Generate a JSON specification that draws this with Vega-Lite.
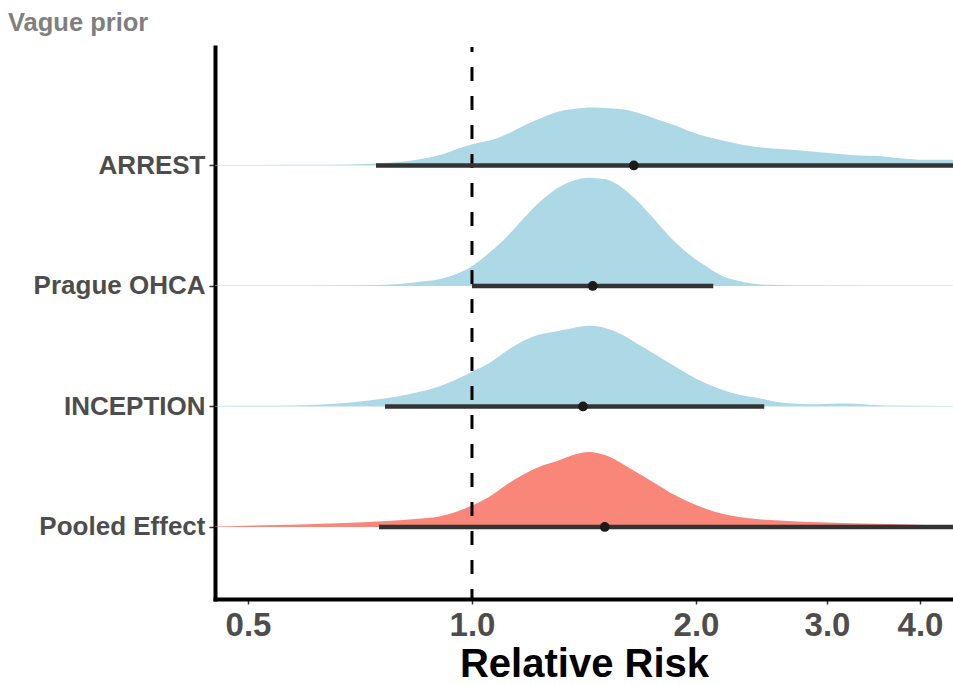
{
  "$schema": "https://vega.github.io/schema/vega-lite/v6.json",
  "width": 738,
  "height": 552,
  "autosize": {"type": "none"},
  "padding": {"left": 215, "top": 47, "right": 0, "bottom": 86},
  "background": "white",
  "title": {"text": "Vague prior", "anchor": "start", "frame": "group", "dx": -207, "dy": 28, "offset": 17, "baseline": "alphabetic", "fontSize": 25.5, "font": "Liberation Sans", "fontWeight": "bold", "color": "#7F7F7F"},
  "datasets": {
    "dens": [
      {"study": "ARREST", "rr": 0.4515, "density": 0.008},
      {"study": "ARREST", "rr": 0.6, "density": 0.012},
      {"study": "ARREST", "rr": 0.705, "density": 0.022},
      {"study": "ARREST", "rr": 0.781, "density": 0.05},
      {"study": "ARREST", "rr": 0.866, "density": 0.122},
      {"study": "ARREST", "rr": 0.922, "density": 0.205},
      {"study": "ARREST", "rr": 0.961, "density": 0.288},
      {"study": "ARREST", "rr": 1.001, "density": 0.355},
      {"study": "ARREST", "rr": 1.065, "density": 0.428},
      {"study": "ARREST", "rr": 1.121, "density": 0.538},
      {"study": "ARREST", "rr": 1.181, "density": 0.678},
      {"study": "ARREST", "rr": 1.243, "density": 0.8},
      {"study": "ARREST", "rr": 1.309, "density": 0.9},
      {"study": "ARREST", "rr": 1.378, "density": 0.945},
      {"study": "ARREST", "rr": 1.451, "density": 0.967},
      {"study": "ARREST", "rr": 1.528, "density": 0.955},
      {"study": "ARREST", "rr": 1.609, "density": 0.928},
      {"study": "ARREST", "rr": 1.694, "density": 0.855},
      {"study": "ARREST", "rr": 1.783, "density": 0.758},
      {"study": "ARREST", "rr": 1.878, "density": 0.667},
      {"study": "ARREST", "rr": 1.977, "density": 0.555},
      {"study": "ARREST", "rr": 2.082, "density": 0.472},
      {"study": "ARREST", "rr": 2.193, "density": 0.405},
      {"study": "ARREST", "rr": 2.43, "density": 0.305},
      {"study": "ARREST", "rr": 2.694, "density": 0.262},
      {"study": "ARREST", "rr": 2.987, "density": 0.212},
      {"study": "ARREST", "rr": 3.312, "density": 0.167},
      {"study": "ARREST", "rr": 3.523, "density": 0.16},
      {"study": "ARREST", "rr": 3.748, "density": 0.122},
      {"study": "ARREST", "rr": 4.07, "density": 0.095},
      {"study": "ARREST", "rr": 4.43, "density": 0.095},
      {"study": "Prague OHCA", "rr": 0.4515, "density": 0.008},
      {"study": "Prague OHCA", "rr": 0.70, "density": 0.012},
      {"study": "Prague OHCA", "rr": 0.80, "density": 0.033},
      {"study": "Prague OHCA", "rr": 0.85, "density": 0.07},
      {"study": "Prague OHCA", "rr": 0.903, "density": 0.112},
      {"study": "Prague OHCA", "rr": 0.951, "density": 0.195},
      {"study": "Prague OHCA", "rr": 1.001, "density": 0.333},
      {"study": "Prague OHCA", "rr": 1.054, "density": 0.55},
      {"study": "Prague OHCA", "rr": 1.11, "density": 0.8},
      {"study": "Prague OHCA", "rr": 1.168, "density": 1.1},
      {"study": "Prague OHCA", "rr": 1.23, "density": 1.388},
      {"study": "Prague OHCA", "rr": 1.296, "density": 1.612},
      {"study": "Prague OHCA", "rr": 1.364, "density": 1.75},
      {"study": "Prague OHCA", "rr": 1.436, "density": 1.805},
      {"study": "Prague OHCA", "rr": 1.513, "density": 1.778},
      {"study": "Prague OHCA", "rr": 1.592, "density": 1.638},
      {"study": "Prague OHCA", "rr": 1.677, "density": 1.388},
      {"study": "Prague OHCA", "rr": 1.766, "density": 1.083},
      {"study": "Prague OHCA", "rr": 1.858, "density": 0.778},
      {"study": "Prague OHCA", "rr": 1.957, "density": 0.528},
      {"study": "Prague OHCA", "rr": 2.061, "density": 0.333},
      {"study": "Prague OHCA", "rr": 2.169, "density": 0.167},
      {"study": "Prague OHCA", "rr": 2.285, "density": 0.083},
      {"study": "Prague OHCA", "rr": 2.43, "density": 0.028},
      {"study": "Prague OHCA", "rr": 2.7, "density": 0.012},
      {"study": "Prague OHCA", "rr": 4.43, "density": 0.008},
      {"study": "INCEPTION", "rr": 0.4515, "density": 0.008},
      {"study": "INCEPTION", "rr": 0.579, "density": 0.017},
      {"study": "INCEPTION", "rr": 0.758, "density": 0.128},
      {"study": "INCEPTION", "rr": 0.84, "density": 0.23},
      {"study": "INCEPTION", "rr": 0.903, "density": 0.333},
      {"study": "INCEPTION", "rr": 0.951, "density": 0.445},
      {"study": "INCEPTION", "rr": 1.001, "density": 0.583},
      {"study": "INCEPTION", "rr": 1.054, "density": 0.722},
      {"study": "INCEPTION", "rr": 1.11, "density": 0.917},
      {"study": "INCEPTION", "rr": 1.168, "density": 1.083},
      {"study": "INCEPTION", "rr": 1.23, "density": 1.195},
      {"study": "INCEPTION", "rr": 1.296, "density": 1.25},
      {"study": "INCEPTION", "rr": 1.364, "density": 1.305},
      {"study": "INCEPTION", "rr": 1.436, "density": 1.345},
      {"study": "INCEPTION", "rr": 1.513, "density": 1.305},
      {"study": "INCEPTION", "rr": 1.592, "density": 1.195},
      {"study": "INCEPTION", "rr": 1.677, "density": 1.028},
      {"study": "INCEPTION", "rr": 1.766, "density": 0.862},
      {"study": "INCEPTION", "rr": 1.858, "density": 0.695},
      {"study": "INCEPTION", "rr": 1.957, "density": 0.528},
      {"study": "INCEPTION", "rr": 2.061, "density": 0.388},
      {"study": "INCEPTION", "rr": 2.169, "density": 0.278},
      {"study": "INCEPTION", "rr": 2.285, "density": 0.195},
      {"study": "INCEPTION", "rr": 2.43, "density": 0.138},
      {"study": "INCEPTION", "rr": 2.585, "density": 0.072},
      {"study": "INCEPTION", "rr": 2.908, "density": 0.038},
      {"study": "INCEPTION", "rr": 3.18, "density": 0.05},
      {"study": "INCEPTION", "rr": 3.59, "density": 0.017},
      {"study": "INCEPTION", "rr": 4.43, "density": 0.008},
      {"study": "Pooled Effect", "rr": 0.4515, "density": 0.008},
      {"study": "Pooled Effect", "rr": 0.498, "density": 0.022},
      {"study": "Pooled Effect", "rr": 0.673, "density": 0.067},
      {"study": "Pooled Effect", "rr": 0.758, "density": 0.095},
      {"study": "Pooled Effect", "rr": 0.84, "density": 0.135},
      {"study": "Pooled Effect", "rr": 0.903, "density": 0.175},
      {"study": "Pooled Effect", "rr": 0.951, "density": 0.25},
      {"study": "Pooled Effect", "rr": 1.001, "density": 0.362},
      {"study": "Pooled Effect", "rr": 1.054, "density": 0.5},
      {"study": "Pooled Effect", "rr": 1.11, "density": 0.695},
      {"study": "Pooled Effect", "rr": 1.168, "density": 0.862},
      {"study": "Pooled Effect", "rr": 1.23, "density": 1.0},
      {"study": "Pooled Effect", "rr": 1.296, "density": 1.09},
      {"study": "Pooled Effect", "rr": 1.364, "density": 1.195},
      {"study": "Pooled Effect", "rr": 1.436, "density": 1.25},
      {"study": "Pooled Effect", "rr": 1.513, "density": 1.195},
      {"study": "Pooled Effect", "rr": 1.592, "density": 1.055},
      {"study": "Pooled Effect", "rr": 1.677, "density": 0.888},
      {"study": "Pooled Effect", "rr": 1.766, "density": 0.722},
      {"study": "Pooled Effect", "rr": 1.858, "density": 0.555},
      {"study": "Pooled Effect", "rr": 1.957, "density": 0.417},
      {"study": "Pooled Effect", "rr": 2.061, "density": 0.305},
      {"study": "Pooled Effect", "rr": 2.169, "density": 0.222},
      {"study": "Pooled Effect", "rr": 2.285, "density": 0.167},
      {"study": "Pooled Effect", "rr": 2.43, "density": 0.128},
      {"study": "Pooled Effect", "rr": 2.585, "density": 0.11},
      {"study": "Pooled Effect", "rr": 3.0, "density": 0.075},
      {"study": "Pooled Effect", "rr": 3.48, "density": 0.055},
      {"study": "Pooled Effect", "rr": 4.05, "density": 0.035},
      {"study": "Pooled Effect", "rr": 4.43, "density": 0.022}
    ],
    "ints": [
      {"study": "ARREST", "lo": 0.743, "hi": 6.0, "est": 1.65},
      {"study": "Prague OHCA", "lo": 1.0, "hi": 2.11, "est": 1.453},
      {"study": "INCEPTION", "lo": 0.764, "hi": 2.47, "est": 1.41},
      {"study": "Pooled Effect", "lo": 0.75, "hi": 6.0, "est": 1.508}
    ]
  },
  "layer": [
    {
      "data": {"name": "dens"},
      "transform": [{"filter": {"field": "study", "equal": "ARREST"}}],
      "mark": {"type": "area", "color": "#ADD8E6", "interpolate": "monotone", "clip": true},
      "encoding": {
        "x": {"field": "rr", "type": "quantitative", "title": "Relative Risk", "scale": {"type": "log", "domain": [0.4515, 4.43], "nice": false}, "axis": {"values": [0.5, 1, 2, 3, 4], "format": ".1f"}},
        "y": {"field": "density", "type": "quantitative", "scale": {"domain": [-7.225, 1.975], "nice": false, "zero": false}, "axis": null},
        "y2": {"datum": 0}
      }
    },
    {
      "data": {"name": "dens"},
      "transform": [{"filter": {"field": "study", "equal": "Prague OHCA"}}],
      "mark": {"type": "area", "color": "#ADD8E6", "interpolate": "monotone", "clip": true},
      "encoding": {
        "x": {"field": "rr", "type": "quantitative", "title": "Relative Risk", "scale": {"type": "log", "domain": [0.4515, 4.43], "nice": false}, "axis": {"values": [0.5, 1, 2, 3, 4], "format": ".1f"}},
        "y": {"field": "density", "type": "quantitative", "scale": {"domain": [-5.2167, 3.9833], "nice": false, "zero": false}, "axis": null},
        "y2": {"datum": 0}
      }
    },
    {
      "data": {"name": "dens"},
      "transform": [{"filter": {"field": "study", "equal": "INCEPTION"}}],
      "mark": {"type": "area", "color": "#ADD8E6", "interpolate": "monotone", "clip": true},
      "encoding": {
        "x": {"field": "rr", "type": "quantitative", "title": "Relative Risk", "scale": {"type": "log", "domain": [0.4515, 4.43], "nice": false}, "axis": {"values": [0.5, 1, 2, 3, 4], "format": ".1f"}},
        "y": {"field": "density", "type": "quantitative", "scale": {"domain": [-3.2083, 5.9917], "nice": false, "zero": false}, "axis": null},
        "y2": {"datum": 0}
      }
    },
    {
      "data": {"name": "dens"},
      "transform": [{"filter": {"field": "study", "equal": "Pooled Effect"}}],
      "mark": {"type": "area", "color": "#F8877A", "interpolate": "monotone", "clip": true},
      "encoding": {
        "x": {"field": "rr", "type": "quantitative", "title": "Relative Risk", "scale": {"type": "log", "domain": [0.4515, 4.43], "nice": false}, "axis": {"values": [0.5, 1, 2, 3, 4], "format": ".1f"}},
        "y": {"field": "density", "type": "quantitative", "scale": {"domain": [-1.2, 8.0], "nice": false, "zero": false}, "axis": null},
        "y2": {"datum": 0}
      }
    },
    {
      "data": {"values": [{"rr": 1}]},
      "mark": {"type": "rule", "color": "black", "strokeWidth": 3, "strokeDash": [14, 15], "strokeDashOffset": 9},
      "encoding": {
        "x": {"field": "rr", "type": "quantitative", "title": "Relative Risk", "scale": {"type": "log", "domain": [0.4515, 4.43], "nice": false}, "axis": {"values": [0.5, 1, 2, 3, 4], "format": ".1f"}}
      }
    },
    {
      "data": {"name": "ints"},
      "mark": {"type": "rule", "color": "#333333", "strokeWidth": 4.5, "clip": true},
      "encoding": {
        "x": {"field": "lo", "type": "quantitative", "title": "Relative Risk", "scale": {"type": "log", "domain": [0.4515, 4.43], "nice": false}, "axis": {"values": [0.5, 1, 2, 3, 4], "format": ".1f"}},
        "x2": {"field": "hi"},
        "y": {"field": "study", "type": "nominal", "sort": ["ARREST", "Prague OHCA", "INCEPTION", "Pooled Effect"], "scale": {"type": "point", "padding": 0.7905, "align": 0.622}, "axis": {"title": null}}
      }
    },
    {
      "data": {"name": "ints"},
      "mark": {"type": "point", "filled": true, "size": 95, "color": "#1A1A1A", "opacity": 1, "clip": true},
      "encoding": {
        "x": {"field": "est", "type": "quantitative", "title": "Relative Risk", "scale": {"type": "log", "domain": [0.4515, 4.43], "nice": false}, "axis": {"values": [0.5, 1, 2, 3, 4], "format": ".1f"}},
        "y": {"field": "study", "type": "nominal", "sort": ["ARREST", "Prague OHCA", "INCEPTION", "Pooled Effect"], "scale": {"type": "point", "padding": 0.7905, "align": 0.622}, "axis": null}
      }
    }
  ],
  "resolve": {"scale": {"y": "independent"}},
  "config": {
    "view": {"stroke": null},
    "axisX": {
      "grid": false,
      "domainColor": "black", "domainWidth": 4, "domainCap": "square",
      "tickColor": "#333333", "tickWidth": 1.5, "tickSize": 5,
      "labelFont": "Liberation Sans", "labelFontWeight": "bold", "labelFontSize": 33, "labelColor": "#4D4D4D", "labelPadding": 5, "labelFlush": false,
      "titleFont": "Liberation Sans", "titleFontWeight": "bold", "titleFontSize": 40, "titleColor": "black", "titlePadding": 2
    },
    "axisY": {
      "grid": false,
      "domainColor": "black", "domainWidth": 4, "domainCap": "square",
      "tickColor": "#333333", "tickWidth": 1.5, "tickSize": 6,
      "labelFont": "Liberation Sans", "labelFontWeight": "bold", "labelFontSize": 26, "labelColor": "#4D4D4D", "labelPadding": 4
    }
  }
}
